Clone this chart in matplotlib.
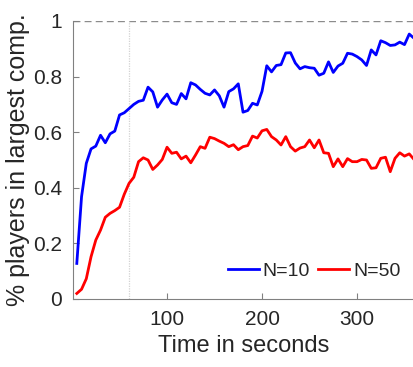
import matplotlib
matplotlib.use("Agg")
import matplotlib.pyplot as plt
import numpy as np

# Data
t = np.arange(5, 361, 5)
n10 = [0.128, 0.368, 0.488, 0.540, 0.550, 0.589, 0.562, 0.594, 0.604, 0.662,
       0.670, 0.685, 0.700, 0.711, 0.715, 0.762, 0.745, 0.690, 0.716, 0.737,
       0.706, 0.700, 0.739, 0.720, 0.778, 0.770, 0.754, 0.740, 0.734, 0.752,
       0.731, 0.690, 0.746, 0.756, 0.774, 0.672, 0.678, 0.704, 0.698, 0.747,
       0.839, 0.817, 0.840, 0.843, 0.885, 0.886, 0.849, 0.828, 0.836, 0.832,
       0.830, 0.805, 0.812, 0.853, 0.815, 0.838, 0.848, 0.884, 0.881, 0.872,
       0.860, 0.840, 0.896, 0.878, 0.929, 0.922, 0.912, 0.914, 0.924, 0.915,
       0.953, 0.938]
n50 = [0.020, 0.035, 0.073, 0.152, 0.212, 0.248, 0.294, 0.308, 0.318, 0.330,
       0.377, 0.416, 0.438, 0.494, 0.508, 0.500, 0.466, 0.482, 0.502, 0.546,
       0.524, 0.528, 0.504, 0.514, 0.490, 0.518, 0.548, 0.542, 0.582, 0.577,
       0.568, 0.560, 0.548, 0.555, 0.537, 0.548, 0.552, 0.586, 0.579, 0.605,
       0.610, 0.584, 0.572, 0.554, 0.584, 0.548, 0.532, 0.543, 0.548, 0.572,
       0.544, 0.572, 0.526, 0.524, 0.476, 0.504, 0.476, 0.505, 0.494, 0.494,
       0.502, 0.500, 0.470, 0.472, 0.506, 0.510, 0.458, 0.506, 0.526, 0.514,
       0.522, 0.502]
labels = ["N=10", "N=50"]
xticks = [100, 200, 300]
yticks = [0, 0.2, 0.4, 0.6, 0.8, 1]

plt.rcParams['font.family'] = ['Liberation Sans', 'DejaVu Sans']

fig = plt.figure(figsize=(4.13, 3.67), dpi=100)
ax = fig.add_axes([73/413, 68/367, 341/413, 278/367])

ax.axhline(1, color="#8c8c8c", lw=1, ls=(0, (5, 3)), zorder=1)
ax.axvline(60, color="#d2d2d2", lw=0.9, ls=(0, (1, 1)), zorder=1)

ax.plot(t, n10, color="#0000ff", lw=2, label=labels[0])
ax.plot(t, n50, color="#ff0000", lw=2, label=labels[1])

ax.set_xlim(1, 360)
ax.set_ylim(0, 1)
ax.set_xticks(xticks)
ax.set_yticks(yticks)
ax.set_yticklabels(["0", "0.2", "0.4", "0.6", "0.8", "1"])

for s in ["top", "right"]:
    ax.spines[s].set_visible(False)
for s in ["left", "bottom"]:
    ax.spines[s].set_color("#808080")
    ax.spines[s].set_linewidth(0.8)
ax.tick_params(direction="in", length=4, width=0.8, color="#808080",
               labelcolor="#262626", labelsize=15, pad=8)

ax.set_xlabel("Time in seconds", fontsize=17, color="#262626", labelpad=4)
ax.set_ylabel("% players in largest comp.", fontsize=18, color="#262626", labelpad=2)

leg = ax.legend(loc="lower right", ncol=2, frameon=False, fontsize=14,
                handlelength=1.6, handletextpad=0.2, columnspacing=0.4,
                bbox_to_anchor=(1.0, 0.02), borderaxespad=0.3)
for txt in leg.get_texts():
    txt.set_color("#262626")

fig.savefig("out.png", dpi=100)
